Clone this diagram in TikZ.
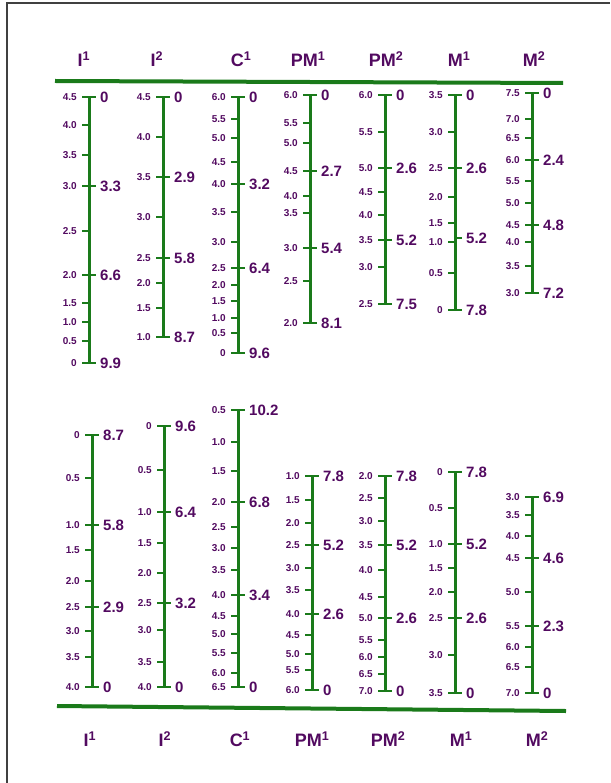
\documentclass[tikz,border=0pt]{standalone}
\usepackage{fontspec}
\setmainfont{Liberation Sans}
\usetikzlibrary{positioning}
\definecolor{scalegreen}{HTML}{1A7A1A}
\definecolor{labpurple}{HTML}{520A60}
\tikzset{
  axis/.style={draw=scalegreen, line width=3pt},
  tickmark/.style={draw=scalegreen, line width=2.4pt},
  rule/.style={draw=scalegreen, line width=4pt},
  frame/.style={draw=black!75, line width=1.2pt},
  leftlab/.style={anchor=east, inner sep=4pt, font=\bfseries\fontsize{10}{11}\selectfont, text=labpurple},
  rightlab/.style={anchor=west, inner sep=3pt, font=\bfseries\fontsize{15}{16}\selectfont, text=labpurple},
  toothlab/.style={font=\bfseries\fontsize{18}{19}\selectfont, text=labpurple}
}
% #1 name, #2 x, #3 top, #4 bottom, #5 left ticks, #6 right ticks
\newcommand{\toothscale}[6]{%
  \draw[axis] (#2,#3) -- (#2,#4);
  \foreach \v/\y [count=\i] in {#5}
    \draw[tickmark] (#2,\y) -- (#2-7,\y) node[leftlab] (#1-l\i) {\v};
  \foreach \v/\y [count=\i] in {#6}
    \draw[tickmark] (#2,\y) -- (#2+7,\y) node[rightlab] (#1-r\i) {\v};
}

\begin{document}
\begin{tikzpicture}[x=1pt, y=-1pt]
  \useasboundingbox (0,0) rectangle (610,783);
  \draw[frame] (7,783) -- (7,3) -- (610,3);

  % upper jaw
  \node[toothlab] (hdI1) at (84,59) {I\textsuperscript{1}};
  \node[toothlab] (hdI2) at (157,59) {I\textsuperscript{2}};
  \node[toothlab] (hdC1) at (241,59) {C\textsuperscript{1}};
  \node[toothlab] (hdPM1) at (308,59) {PM\textsuperscript{1}};
  \node[toothlab] (hdPM2) at (386,59) {PM\textsuperscript{2}};
  \node[toothlab] (hdM1) at (459,59) {M\textsuperscript{1}};
  \node[toothlab] (hdM2) at (534,59) {M\textsuperscript{2}};
  \draw[rule] (55,81) -- (563,83);

  \toothscale{I1u}{89}{97}{363}
    {4.5/97,4.0/125,3.5/155,3.0/186,2.5/231,2.0/275,1.5/303,1.0/322,0.5/341,0/363}
    {0/97,3.3/186,6.6/275,9.9/363}
  \toothscale{I2u}{163}{97}{337}
    {4.5/97,4.0/137,3.5/177,3.0/217,2.5/258,2.0/283,1.5/308,1.0/337}
    {0/97,2.9/177,5.8/258,8.7/337}
  \toothscale{C1u}{238}{97}{353}
    {6.0/97,5.5/119,5.0/138,4.5/162,4.0/184,3.5/212,3.0/242,2.5/268,2.0/285,1.5/301,1.0/318,0.5/333,0/353}
    {0/97,3.2/184,6.4/268,9.6/353}
  \toothscale{PM1u}{310}{95}{323}
    {6.0/95,5.5/123,5.0/143,4.5/171,4.0/196,3.5/213,3.0/248,2.5/281,2.0/323}
    {0/95,2.7/171,5.4/248,8.1/323}
  \toothscale{PM2u}{385}{95}{304}
    {6.0/95,5.5/132,5.0/168,4.5/192,4.0/215,3.5/240,3.0/267,2.5/304}
    {0/95,2.6/168,5.2/240,7.5/304}
  \toothscale{M1u}{455}{95}{310}
    {3.5/95,3.0/132,2.5/168,2.0/197,1.5/223,1.0/242,0.5/273,0/310}
    {0/95,2.6/168,5.2/238,7.8/310}
  \toothscale{M2u}{532}{93}{293}
    {7.5/93,7.0/119,6.5/138,6.0/160,5.5/181,5.0/203,4.5/225,4.0/242,3.5/266,3.0/293}
    {0/93,2.4/160,4.8/225,7.2/293}

  % lower jaw
  \toothscale{I1d}{92}{435}{687}
    {0/435,0.5/478,1.0/525,1.5/550,2.0/581,2.5/607,3.0/631,3.5/657,4.0/687}
    {8.7/435,5.8/525,2.9/607,0/687}
  \toothscale{I2d}{164}{426}{687}
    {0/426,0.5/470,1.0/512,1.5/543,2.0/573,2.5/603,3.0/630,3.5/662,4.0/687}
    {9.6/426,6.4/512,3.2/603,0/687}
  \toothscale{C1d}{238}{410}{687}
    {0.5/410,1.0/442,1.5/471,2.0/502,2.5/527,3.0/548,3.5/570,4.0/595,4.5/616,5.0/634,5.5/653,6.0/673,6.5/687}
    {10.2/410,6.8/502,3.4/595,0/687}
  \toothscale{PM1d}{312}{476}{690}
    {1.0/476,1.5/500,2.0/523,2.5/545,3.0/568,3.5/590,4.0/614,4.5/635,5.0/654,5.5/670,6.0/690}
    {7.8/476,5.2/545,2.6/614,0/690}
  \toothscale{PM2d}{385}{476}{691}
    {2.0/476,2.5/498,3.0/521,3.5/545,4.0/570,4.5/597,5.0/618,5.5/640,6.0/657,6.5/674,7.0/691}
    {7.8/476,5.2/545,2.6/618,0/691}
  \toothscale{M1d}{455}{472}{693}
    {0/472,0.5/508,1.0/544,1.5/568,2.0/592,2.5/618,3.0/655,3.5/693}
    {7.8/472,5.2/544,2.6/618,0/693}
  \toothscale{M2d}{532}{497}{693}
    {3.0/497,3.5/515,4.0/536,4.5/558,5.0/592,5.5/626,6.0/647,6.5/667,7.0/693}
    {6.9/497,4.6/558,2.3/626,0/693}

  \draw[rule] (57,706) -- (566,711);
  \node[toothlab] (ftI1) at (90,739) {I\textsuperscript{1}};
  \node[toothlab] (ftI2) at (165,739) {I\textsuperscript{2}};
  \node[toothlab] (ftC1) at (240,739) {C\textsuperscript{1}};
  \node[toothlab] (ftPM1) at (312,739) {PM\textsuperscript{1}};
  \node[toothlab] (ftPM2) at (388,739) {PM\textsuperscript{2}};
  \node[toothlab] (ftM1) at (461,739) {M\textsuperscript{1}};
  \node[toothlab] (ftM2) at (537,739) {M\textsuperscript{2}};
\end{tikzpicture}
\end{document}
